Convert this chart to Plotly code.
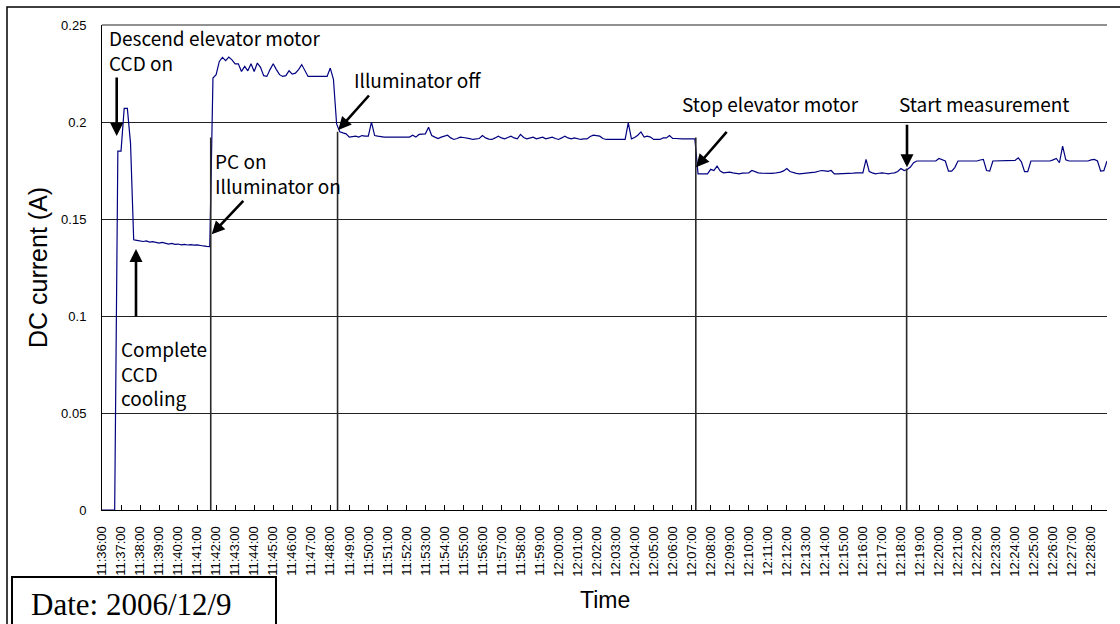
import pandas as pd
import plotly.graph_objects as go

# ---- logged DC current, one sample every 10 s, split by operating phase ----
start_time = "2006-12-09 11:36:00"
sample_period = "10s"

startup = [0, 0, 0, 0, 0, 0.185, 0.185, 0.207, 0.207, 0.189]
ccd_cooled = [0.1393, 0.1390, 0.1388, 0.1384, 0.1387, 0.1381, 0.1383, 0.1378, 0.1376, 0.1379,
              0.1373, 0.1371, 0.1374, 0.1369, 0.1371, 0.1367, 0.1369, 0.1366, 0.1368, 0.1365,
              0.1367, 0.1363, 0.1361, 0.1359, 0.1358]
illuminated = [0.2227, 0.2244, 0.2312, 0.2333, 0.2316, 0.2335, 0.2320, 0.2300, 0.2300, 0.2260,
               0.2287, 0.2264, 0.2300, 0.2260, 0.2304, 0.2282, 0.2239, 0.2235, 0.2270, 0.2300,
               0.2270, 0.2244, 0.2235, 0.2239, 0.2264, 0.2247, 0.2252, 0.2270, 0.2296, 0.2264,
               0.2235, 0.2235, 0.2235, 0.2235, 0.2235, 0.2235, 0.2235, 0.2278, 0.2220, 0.1990]
lamp_off = [0.1950, 0.1944, 0.1939, 0.1922, 0.1925, 0.1927, 0.1922, 0.1930, 0.1927, 0.1927,
            0.1999, 0.1930, 0.1927, 0.1924, 0.1922, 0.1922, 0.1922, 0.1920, 0.1922, 0.1922,
            0.1922, 0.1920, 0.1922, 0.1932, 0.1922, 0.1936, 0.1936, 0.1939, 0.1973, 0.1930,
            0.1922, 0.1915, 0.1922, 0.1927, 0.1932, 0.1918, 0.1910, 0.1915, 0.1922, 0.1920,
            0.1918, 0.1914, 0.1910, 0.1912, 0.1915, 0.1930, 0.1918, 0.1912, 0.1910, 0.1918,
            0.1927, 0.1918, 0.1913, 0.1920, 0.1927, 0.1918, 0.1913, 0.1936, 0.1920, 0.1913,
            0.1918, 0.1922, 0.1913, 0.1918, 0.1922, 0.1913, 0.1918, 0.1922, 0.1915, 0.1910,
            0.1918, 0.1927, 0.1918, 0.1913, 0.1918, 0.1914, 0.1910, 0.1913, 0.1913, 0.1925,
            0.1932, 0.1930, 0.1927, 0.1915, 0.1910, 0.1910, 0.1910, 0.1910, 0.1910, 0.1910,
            0.1910, 0.1995, 0.1913, 0.1920, 0.1932, 0.1949, 0.1922, 0.1927, 0.1922, 0.1910,
            0.1910, 0.1910, 0.1918, 0.1918, 0.1930, 0.1915, 0.1915, 0.1913, 0.1913, 0.1913,
            0.1913, 0.1913, 0.1913]
motor_stopped = [0.1733, 0.1733, 0.1733, 0.1733, 0.1756, 0.1750, 0.1773, 0.1747, 0.1738, 0.1740,
                 0.1742, 0.1738, 0.1735, 0.1733, 0.1736, 0.1738, 0.1738, 0.1750, 0.1742, 0.1738,
                 0.1736, 0.1735, 0.1733, 0.1735, 0.1736, 0.1738, 0.1742, 0.1748, 0.1760, 0.1745,
                 0.1738, 0.1735, 0.1733, 0.1735, 0.1736, 0.1738, 0.1738, 0.1742, 0.1746, 0.1750,
                 0.1748, 0.1746, 0.1750, 0.1733, 0.1733, 0.1733, 0.1733, 0.1735, 0.1736, 0.1736,
                 0.1738, 0.1738, 0.1738, 0.1807, 0.1745, 0.1738, 0.1733, 0.1736, 0.1738, 0.1736,
                 0.1733, 0.1736, 0.1738, 0.1745, 0.1760, 0.1750]
measuring = [0.1755, 0.1768, 0.1790, 0.1799, 0.1799, 0.1799, 0.1799, 0.1799, 0.1802, 0.1799,
             0.1812, 0.1807, 0.1799, 0.1747, 0.1747, 0.1765, 0.1799, 0.1799, 0.1799, 0.1799,
             0.1799, 0.1799, 0.1799, 0.1804, 0.1807, 0.1750, 0.1747, 0.1799, 0.1799, 0.1799,
             0.1799, 0.1799, 0.1799, 0.1802, 0.1802, 0.1815, 0.1795, 0.1744, 0.1744, 0.1799,
             0.1799, 0.1799, 0.1799, 0.1799, 0.1799, 0.1799, 0.1805, 0.1812, 0.1790, 0.1876,
             0.1805, 0.1799, 0.1799, 0.1799, 0.1799, 0.1799, 0.1799, 0.1799, 0.1805, 0.1807,
             0.1799, 0.1747, 0.1749, 0.1799]

current = startup + ccd_cooled + illuminated + lamp_off + motor_stopped + measuring
times = pd.date_range(start_time, periods=len(current), freq=sample_period)

# markers for the switching events (time, height of the marker line)
event_times = ["2006-12-09 11:41:43", "2006-12-09 11:48:23",
               "2006-12-09 12:07:13", "2006-12-09 12:18:18"]
event_levels = [0.192, 0.195, 0.192, 0.176]

y_ticks = [0, 0.05, 0.1, 0.15, 0.2, 0.25]
y_tick_text = ["0", "0.05", "0.1", "0.15", "0.2", "0.25"]

# ---- geometry of the plotting area (pixels) ----
W, H = 1120, 624
L, R, T, B = 102, 1107, 25, 510
t_start = times[0]
t_end = times[-1]
span_min = (t_end - t_start).total_seconds() / 60.0


def t_px(px):
    return t_start + pd.Timedelta(minutes=(px - L) / (R - L) * span_min)


def v_px(py):
    return (B - py) / (B - T) * 0.25


def xp(px):
    return (px - L) / (R - L)


def yp(py):
    return (B - py) / (B - T)


fig = go.Figure()
fig.add_trace(go.Scatter(x=times, y=current, mode="lines",
                         line=dict(color="#000080", width=1.2),
                         cliponaxis=False, hoverinfo="x+y"))

shapes = []
for et, lv in zip(event_times, event_levels):
    shapes.append(dict(type="line", xref="x", yref="y", x0=et, x1=et, y0=0, y1=lv,
                       line=dict(color="#2a2a2a", width=1.6)))
# top edge of the plotting area
shapes.append(dict(type="line", xref="paper", yref="paper", x0=0, x1=1, y0=1, y1=1,
                   line=dict(color="#222222", width=1)))
# outer chart frame
shapes.append(dict(type="rect", xref="paper", yref="paper",
                   x0=xp(7), x1=xp(1135), y0=yp(7), y1=yp(640),
                   line=dict(color="black", width=1.5), fillcolor="rgba(0,0,0,0)"))
# date box
shapes.append(dict(type="rect", xref="paper", yref="paper",
                   x0=xp(12), x1=xp(276), y0=yp(577), y1=yp(640),
                   line=dict(color="black", width=2), fillcolor="white"))

note_font = dict(family="Noto Sans CJK JP", size=19, color="black")
ann = []


def text_note(txt, px, py):
    ann.append(dict(x=xp(px), y=yp(py), xref="paper", yref="paper", text=txt,
                    showarrow=False, xanchor="left", yanchor="top", align="left",
                    font=note_font))


def arrow(tip_x, tip_y, dx, dy):
    ann.append(dict(x=t_px(tip_x), y=v_px(tip_y), xref="x", yref="y", text="",
                    showarrow=True, ax=dx, ay=dy, arrowhead=2, arrowsize=1.0,
                    arrowwidth=2.6, arrowcolor="black", standoff=0))


text_note("Descend elevator motor<br>CCD on", 107, 22)
text_note("PC on<br>Illuminator on", 213, 145)
text_note("Illuminator off", 352, 64)
text_note("Stop elevator motor", 680, 88)
text_note("Start measurement", 897, 88)
text_note("Complete<br>CCD<br>cooling", 119, 333)

arrow(116.7, 136, 0, -60)
arrow(136, 249, 0, 69)
arrow(211.7, 234.3, 33, -35)
arrow(338.3, 130, 32, -36)
arrow(696, 167.3, 32, -37)
arrow(907, 167.3, 0, -44)

# axis titles
ann.append(dict(x=xp(38), y=yp(268), xref="paper", yref="paper", text="DC current (A)",
                textangle=-90, showarrow=False, xanchor="center", yanchor="middle",
                font=dict(family="Liberation Sans", size=25, color="black")))
ann.append(dict(x=0.5, y=yp(600), xref="paper", yref="paper", text="Time",
                showarrow=False, xanchor="center", yanchor="middle",
                font=dict(family="Liberation Sans", size=23, color="black")))
ann.append(dict(x=xp(29), y=yp(604), xref="paper", yref="paper", text="Date: 2006/12/9",
                showarrow=False, xanchor="left", yanchor="middle",
                font=dict(family="Liberation Serif", size=31, color="black")))

fig.update_layout(
    width=W, height=H,
    margin=dict(l=L, r=W - R, t=T, b=H - B),
    paper_bgcolor="white", plot_bgcolor="white",
    showlegend=False,
    shapes=shapes, annotations=ann,
    xaxis=dict(type="date", range=[t_start, t_end], tick0=t_start, dtick=60000,
               tickformat="%H:%M:%S", tickangle=-90, ticks="inside", ticklen=5,
               tickcolor="black", tickwidth=1, showline=True, linecolor="black",
               linewidth=1, showgrid=False, zeroline=False, layer="below traces",
               ticklabelstandoff=10,
               tickfont=dict(family="Liberation Sans", size=13, color="black")),
    yaxis=dict(range=[0, 0.25], tickvals=y_ticks, ticktext=y_tick_text, ticks="",
               showline=True, linecolor="black", linewidth=1, showgrid=True,
               gridcolor="#222222", gridwidth=1, zeroline=False, layer="below traces",
               ticklabelstandoff=12,
               tickfont=dict(family="Liberation Sans", size=13, color="black")),
)

fig.write_html("out.html")
